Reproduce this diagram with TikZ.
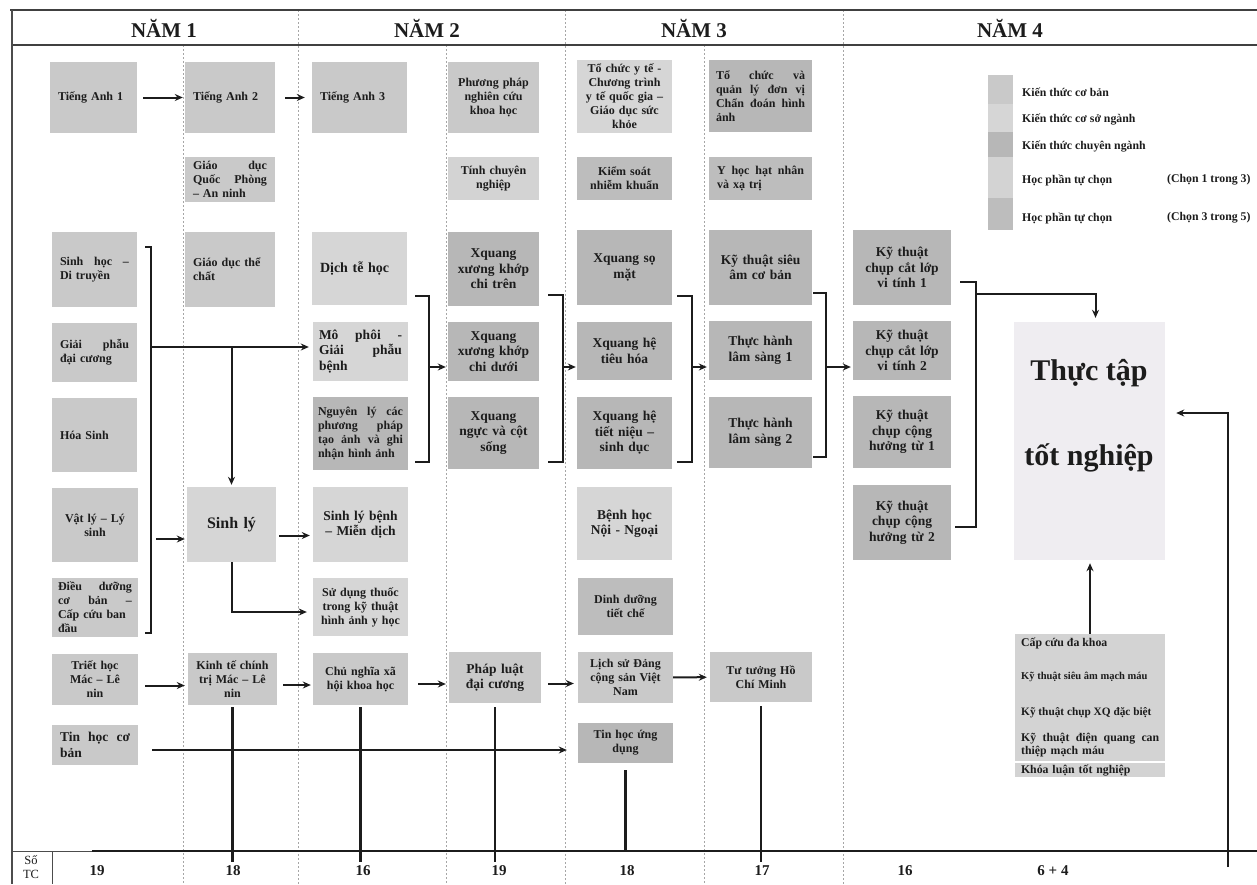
\documentclass[tikz,border=0pt]{standalone}
\usepackage{fontspec}
\setmainfont{Liberation Serif}
\usetikzlibrary{arrows.meta,calc}

\definecolor{cb}{HTML}{C9C9C9}
\definecolor{csn}{HTML}{D6D6D6}
\definecolor{cn}{HTML}{B7B7B7}
\definecolor{tca}{HTML}{D3D3D3}
\definecolor{tcb}{HTML}{BDBDBD}
\definecolor{ttfill}{HTML}{EFEDF1}
\definecolor{ink}{HTML}{1C1C1C}

\newcommand{\fsm}{\bfseries\fontsize{12}{14}\selectfont}
\newcommand{\fbg}{\bfseries\fontsize{13.5}{15.5}\selectfont}

\newcommand{\bx}[8][4]{%
  \pgfmathsetmacro{\myBW}{#5-#3}%
  \pgfmathsetmacro{\myBH}{#6-#4}%
  \pgfmathsetmacro{\myTW}{#5-#3-2*#1}%
  \node[cbox,#7,inner xsep=#1pt,minimum width=\myBW pt,minimum height=\myBH pt,text width=\myTW pt] (#2) at ({(#3+#5)/2},{(#4+#6)/2}) {#8};}

\begin{document}
\begin{tikzpicture}[x=1pt,y=-1pt,
  cbox/.style={rectangle, inner ysep=1pt, align=center, font=\fsm, text=ink},
  lft/.style={align=left},
  bigtxt/.style={font=\fbg},
  conn/.style={draw=ink, line width=2pt},
  arr/.style={conn, -{Stealth[length=8pt,width=7pt]}},
  vl/.style={draw=ink, line width=2.4pt},
  sep/.style={draw=black!35, line width=0.7pt, dash pattern=on 2pt off 2pt},
  frm/.style={draw=black!75, line width=1.6pt},
  ttl/.style={font=\bfseries\fontsize{21}{24}\selectfont, text=ink},
  lg/.style={anchor=west, inner sep=0, font=\bfseries\fontsize{11.8}{13}\selectfont, text=ink},
  et/.style={anchor=west, inner sep=0, font=\bfseries\fontsize{11.8}{13}\selectfont, text=ink},
  cr/.style={font=\bfseries\fontsize{15}{17}\selectfont, text=ink}]

\useasboundingbox (0,0) rectangle (1257,884);

% column separators
\foreach \xx in {298,565,843} \draw[sep] (\xx,10) -- (\xx,884);
\foreach \xx in {183,446,704} \draw[sep] (\xx,45) -- (\xx,884);

% frame
\draw[frm] (10,10) -- (1257,10);
\draw[frm] (12,45) -- (1257,45);
\draw[draw=black!70, line width=1.2pt] (12,10) -- (12,884);
\draw[draw=black!70, line width=1pt] (52,851) -- (52,884);
\draw[draw=black!70, line width=1pt] (12,851) -- (92,851);

% titles
\node[ttl] (y1) at (164,28) {NĂM 1};
\node[ttl] (y2) at (427,28) {NĂM 2};
\node[ttl] (y3) at (694,28) {NĂM 3};
\node[ttl] (y4) at (1010,28) {NĂM 4};

% column 1
\bx[8]{t1}{50}{62}{137}{133}{fill=cb,lft}{Tiếng Anh 1}
\bx[8]{sinhhoc}{52}{232}{137}{307}{fill=cb,lft}{Sinh \hfill học \hfill –\\Di truyền}
\bx[8]{giaiphau}{52}{323}{137}{382}{fill=cb,lft}{Giải \hfill phẫu\\đại cương}
\bx[8]{hoasinh}{52}{398}{137}{472}{fill=cb,lft}{Hóa Sinh}
\bx{vatly}{52}{488}{138}{562}{fill=cb}{Vật lý – Lý\\sinh}
\bx[6]{dieuduong}{52}{578}{138}{637}{fill=cb,lft}{Điều \hfill dưỡng\\cơ \hfill bản \hfill –\\Cấp cứu ban\\đầu}
\bx{triethoc}{52}{654}{138}{705}{fill=cb}{Triết học\\Mác – Lê\\nin}
\bx[8]{tinhoc}{52}{725}{138}{765}{fill=cb,lft,bigtxt}{Tin \hfill học \hfill cơ\\bản}

% column 2
\bx[8]{t2}{185}{62}{275}{133}{fill=cb,lft}{Tiếng Anh 2}
\bx[8]{gdqp}{185}{157}{275}{202}{fill=cb,lft}{Giáo \hfill dục\\Quốc \hfill Phòng\\– An ninh}
\bx[8]{gdtc}{185}{232}{275}{307}{fill=cb,lft}{Giáo dục thể\\chất}
\bx{sinhly}{187}{487}{276}{562}{fill=csn,font=\bfseries\fontsize{16}{18}\selectfont}{Sinh lý}
\bx{kinhte}{188}{653}{277}{705}{fill=cb}{Kinh tế chính\\trị Mác – Lê\\nin}

% column 3
\bx[8]{t3}{312}{62}{407}{133}{fill=cb,lft}{Tiếng Anh 3}
\bx[8]{dichte}{312}{232}{407}{305}{fill=csn,lft,font=\bfseries\fontsize{14}{16}\selectfont}{Dịch tễ học}
\bx[6]{mophoi}{313}{322}{408}{381}{fill=csn,lft,bigtxt}{Mô \hfill phôi \hfill -\\Giải \hfill phẫu\\bệnh}
\bx[5]{nguyenly}{313}{397}{408}{470}{fill=cn,lft}{Nguyên \hfill lý \hfill các\\phương \hfill pháp\\tạo \hfill ảnh \hfill và \hfill ghi\\nhận hình ảnh}
\bx{slbenh}{313}{487}{408}{562}{fill=csn,bigtxt}{Sinh lý bệnh\\– Miễn dịch}
\bx{sudung}{313}{578}{408}{636}{fill=csn}{Sử dụng thuốc\\trong kỹ thuật\\hình ảnh y học}
\bx{cnxh}{313}{653}{408}{705}{fill=cb}{Chủ nghĩa xã\\hội khoa học}

% column 4
\bx{ppnc}{448}{62}{539}{133}{fill=cb}{Phương pháp\\nghiên cứu\\khoa học}
\bx{tcn}{448}{157}{539}{200}{fill=tca}{Tính chuyên\\nghiệp}
\bx{xq1}{448}{232}{539}{306}{fill=cn,bigtxt}{Xquang\\xương khớp\\chi trên}
\bx{xq2}{448}{322}{539}{381}{fill=cn,bigtxt}{Xquang\\xương khớp\\chi dưới}
\bx{xq3}{448}{397}{539}{469}{fill=cn,bigtxt}{Xquang\\ngực và cột\\sống}
\bx{phapluat}{449}{652}{541}{703}{fill=cb,bigtxt}{Pháp luật\\đại cương}

% column 5
\bx{tcyt}{577}{60}{672}{133}{fill=csn}{Tổ chức y tế -\\Chương trình\\y tế quốc gia –\\Giáo dục sức\\khỏe}
\bx{ksnk}{577}{157}{672}{200}{fill=tcb}{Kiểm soát\\nhiễm khuẩn}
\bx{xqsm}{577}{230}{672}{305}{fill=cn,bigtxt}{Xquang sọ\\mặt}
\bx{xqth}{577}{322}{672}{380}{fill=cn,bigtxt}{Xquang hệ\\tiêu hóa}
\bx{xqtn}{577}{397}{672}{469}{fill=cn,bigtxt}{Xquang hệ\\tiết niệu –\\sinh dục}
\bx{benhhoc}{577}{487}{672}{560}{fill=csn,bigtxt}{Bệnh học\\Nội - Ngoại}
\bx{dinhduong}{578}{578}{673}{635}{fill=tcb}{Dinh dưỡng\\tiết chế}
\bx{lichsu}{578}{652}{673}{703}{fill=cb}{Lịch sử Đảng\\cộng sản Việt\\Nam}
\bx{tinhocud}{578}{723}{673}{763}{fill=cn}{Tin học ứng\\dụng}

% column 6
\bx[7]{tcql}{709}{60}{812}{132}{fill=cn,lft}{Tổ \hfill chức \hfill và\\quản \hfill lý \hfill đơn \hfill vị\\Chẩn \hfill đoán \hfill hình\\ảnh}
\bx[8]{yhhn}{709}{157}{812}{200}{fill=tcb,lft}{Y \hfill học \hfill hạt \hfill nhân\\và xạ trị}
\bx{ktsa}{709}{230}{812}{305}{fill=cn,bigtxt}{Kỹ thuật siêu\\âm cơ bản}
\bx{th1}{709}{321}{812}{380}{fill=cn,bigtxt}{Thực hành\\lâm sàng 1}
\bx{th2}{709}{397}{812}{468}{fill=cn,bigtxt}{Thực hành\\lâm sàng 2}
\bx{tt}{710}{652}{812}{702}{fill=cb}{Tư tưởng Hồ\\Chí Minh}

% column 7
\bx{ct1}{853}{230}{951}{305}{fill=cn,bigtxt}{Kỹ thuật\\chụp cắt lớp\\vi tính 1}
\bx{ct2}{853}{321}{951}{380}{fill=cn,bigtxt}{Kỹ thuật\\chụp cắt lớp\\vi tính 2}
\bx{mr1}{853}{396}{951}{468}{fill=cn,bigtxt}{Kỹ thuật\\chụp cộng\\hưởng từ 1}
\bx{mr2}{853}{485}{951}{560}{fill=cn,bigtxt}{Kỹ thuật\\chụp cộng\\hưởng từ 2}

% thuc tap
\bx{thuctap}{1014}{322}{1165}{560}{fill=ttfill}{}
\node[font=\bfseries\fontsize{30}{34}\selectfont, text=ink] (tt1) at (1089,373) {Thực tập};
\node[font=\bfseries\fontsize{30}{34}\selectfont, text=ink] (tt2) at (1089,458) {tốt nghiệp};

% electives
\bx{elective}{1015}{634}{1165}{761}{fill=tca}{}
\node[et] (e1) at (1021,643) {Cấp cứu đa khoa};
\node[et, font=\bfseries\fontsize{10.5}{12}\selectfont] (e2) at (1021,677) {Kỹ thuật siêu âm mạch máu};
\node[et, font=\bfseries\fontsize{11.3}{12}\selectfont] (e3) at (1021,713) {Kỹ thuật chụp XQ đặc biệt};
\node[et, text width=138pt, align=left] (e4) at (1021,745) {Kỹ \hfill thuật \hfill điện \hfill quang \hfill can\\thiệp mạch máu};
\bx[6]{khoaluan}{1015}{763}{1165}{777}{fill=tca,lft,inner ysep=0pt,font=\bfseries\fontsize{11.8}{12}\selectfont}{Khóa luận tốt nghiệp}

% legend
\fill[cb] (988,75) rectangle (1013,104);
\fill[csn] (988,104) rectangle (1013,132);
\fill[cn] (988,132) rectangle (1013,157);
\fill[tca] (988,157) rectangle (1013,198);
\fill[tcb] (988,198) rectangle (1013,230);
\node[lg] (l1) at (1022,92) {Kiến thức cơ bản};
\node[lg] (l2) at (1022,120) {Kiến thức cơ sở ngành};
\node[lg] (l3) at (1022,147) {Kiến thức chuyên ngành};
\node[lg] (l4) at (1022,180) {Học phần tự chọn};
\node[lg] (l4b) at (1167,180) {(Chọn 1 trong 3)};
\node[lg] (l5) at (1022,218) {Học phần tự chọn};
\node[lg] (l5b) at (1167,218) {(Chọn 3 trong 5)};

% connectors row 1
\draw[arr, shorten <=6pt, shorten >=2pt] (t1) -- (t2);
\draw[arr, shorten <=10pt, shorten >=7pt] (t2) -- (t3);

% bracket column 1
\coordinate (b1t) at (145,247);
\coordinate (b1b) at (145,633);
\coordinate (b1m) at (151,347);
\coordinate (b1v) at (151,539);
\draw[conn] (b1t) -- ++(6,0) |- (b1b);
\draw[arr, shorten >=4pt] (b1m) -- (b1m -| mophoi.west);
\draw[arr, shorten >=2pt] (b1m -| sinhly.north) -- (sinhly.north);
\draw[arr, shorten <=5pt, shorten >=2pt] (b1v) -- (b1v -| sinhly.west);
\draw[arr, shorten <=3pt, shorten >=3pt] ([yshift=-11pt]sinhly.east) -- ([yshift=-11pt]sinhly.east -| slbenh.west);
\draw[arr, shorten >=6pt] (sinhly.south) |- ([yshift=-5pt]sudung.west);

% bracket column 3
\coordinate (b2t) at (415,296);
\coordinate (b2b) at (415,462);
\coordinate (b2m) at (429,367);
\draw[conn] (b2t) -- ++(14,0) |- (b2b);
\draw[arr, shorten >=2pt] (b2m) -- (b2m -| xq2.west);

% bracket column 4
\coordinate (b3t) at (548,295);
\coordinate (b3b) at (548,462);
\coordinate (b3m) at (563,367);
\draw[conn] (b3t) -- ++(15,0) |- (b3b);
\draw[arr, shorten >=1pt] (b3m) -- (b3m -| xqth.west);

% bracket column 5
\coordinate (b4t) at (677,296);
\coordinate (b4b) at (677,462);
\coordinate (b4m) at (692,367);
\draw[conn] (b4t) -- ++(15,0) |- (b4b);
\draw[arr, shorten >=2pt] (b4m) -- (b4m -| th1.west);

% bracket column 6
\coordinate (b5t) at (813,293);
\coordinate (b5b) at (813,457);
\coordinate (b5m) at (826,367);
\draw[conn] (b5t) -- ++(13,0) |- (b5b);
\draw[arr, shorten >=2pt] (b5m) -- (b5m -| ct2.west);

% bracket column 7
\coordinate (b6t) at (960,282);
\coordinate (b6b) at (955,527);
\coordinate (b6m) at (976,294);
\draw[conn] (b6t) -- ++(16,0) |- (b6b);
\draw[arr, shorten >=4pt] (b6m) -| ([xshift=6pt]thuctap.north);

% political / general row
\draw[arr, shorten <=7pt, shorten >=3pt] ([yshift=-6pt]triethoc.east) -- ([yshift=-6pt]triethoc.east -| kinhte.west);
\draw[arr, shorten <=6pt, shorten >=2pt] ([yshift=-6pt]kinhte.east) -- ([yshift=-6pt]kinhte.east -| cnxh.west);
\draw[arr, shorten <=10pt, shorten >=3pt] ([yshift=-5pt]cnxh.east) -- ([yshift=-5pt]cnxh.east -| phapluat.west);
\draw[arr, shorten <=7pt, shorten >=4pt] ([yshift=-6pt]phapluat.east) -- ([yshift=-6pt]phapluat.east -| lichsu.west);
\draw[arr, shorten >=3pt] (lichsu) -- (tt);
\draw[arr, shorten <=14pt, shorten >=11pt] ([yshift=-5pt]tinhoc.east) -- ([yshift=-5pt]tinhoc.east -| tinhocud.west);

% credit lines
\coordinate (bl) at (0,851);
\coordinate (ext) at (0,862);
\draw[vl] (92,851) -- (1257,851);
\draw[vl, shorten <=2pt] (kinhte.south) -- (kinhte.south |- ext);
\draw[vl, shorten <=2pt] (cnxh.south) -- (cnxh.south |- ext);
\draw[vl, shorten <=4pt] (phapluat.south) -- (phapluat.south |- ext);
\draw[vl, shorten <=7pt] (tinhocud.south) -- (tinhocud.south |- bl);
\draw[vl, shorten <=4pt] (tt.south) -- (tt.south |- ext);

% final internship links
\coordinate (rb) at (1228,867);
\draw[arr, shorten >=11pt] (rb) |- ([yshift=28pt]thuctap.east);
\draw[arr, shorten >=3pt] (elective.north) -- (elective.north |- thuctap.south);

% credits
\node[font=\fontsize{12.5}{14}\selectfont, align=center, text=ink, inner sep=0pt] (sotc) at (31,867) {Số\\TC};
\node[cr] (c1) at (97,871) {19};
\node[cr] (c2) at (233,871) {18};
\node[cr] (c3) at (363,871) {16};
\node[cr] (c4) at (499,871) {19};
\node[cr] (c5) at (627,871) {18};
\node[cr] (c6) at (762,871) {17};
\node[cr] (c7) at (905,871) {16};
\node[cr] (c8) at (1053,871) {6 + 4};
\end{tikzpicture}
\end{document}
